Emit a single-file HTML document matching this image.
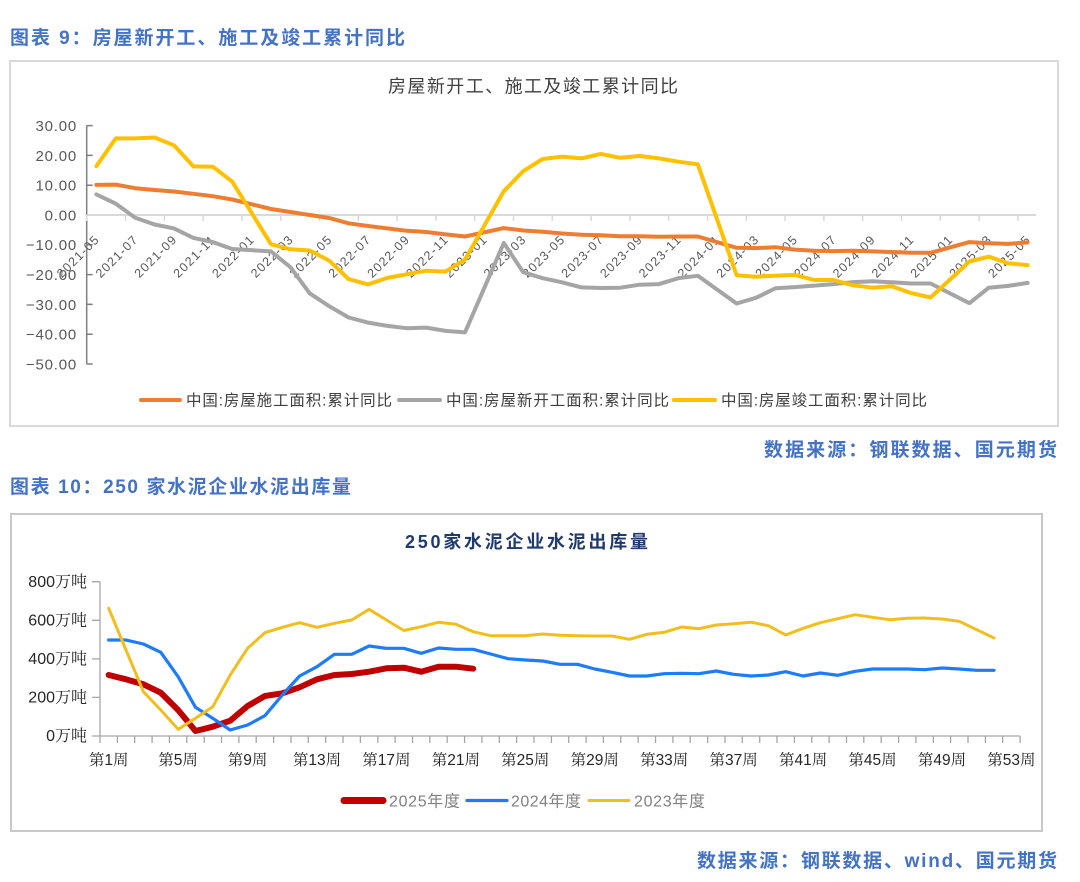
<!DOCTYPE html>
<html>
<head>
<meta charset="utf-8">
<style>
html,body{margin:0;padding:0;background:#fff;}
body{width:1080px;height:882px;overflow:hidden;}
svg{display:block;}
.sans{font-family:"Liberation Sans","Noto Sans CJK SC",sans-serif;}
.ser{font-family:"Liberation Sans","Noto Serif CJK SC",serif;}
</style>
</head>
<body>
<svg width="1080" height="882" viewBox="0 0 1080 882" xmlns="http://www.w3.org/2000/svg">
<rect x="0" y="0" width="1080" height="882" fill="#fff"/>

<!-- headers -->
<text class="sans" x="10" y="44" font-size="19" font-weight="bold" fill="#4472c4" textLength="395">图表 9：房屋新开工、施工及竣工累计同比</text>
<text class="sans" x="764" y="456" font-size="19" font-weight="bold" fill="#4472c4" textLength="293">数据来源：钢联数据、国元期货</text>
<text class="sans" x="10" y="493" font-size="19" font-weight="bold" fill="#4472c4" textLength="341">图表 10：250 家水泥企业水泥出库量</text>
<text class="sans" x="697" y="867" font-size="19" font-weight="bold" fill="#4472c4" textLength="360">数据来源：钢联数据、wind、国元期货</text>

<!-- ============ TOP CHART ============ -->
<rect x="10" y="61" width="1048" height="365" fill="#fff" stroke="#d9d9d9" stroke-width="2"/>
<text class="sans" x="388" y="92.5" font-size="18" fill="#404040" textLength="290">房屋新开工、施工及竣工累计同比</text>

<!-- y labels -->
<g class="sans" font-size="15" fill="#595959" text-anchor="end" letter-spacing="0.8">
<text x="77" y="131">30.00</text>
<text x="77" y="160.8">20.00</text>
<text x="77" y="190.6">10.00</text>
<text x="77" y="220.4">0.00</text>
<text x="77" y="250.2">−10.00</text>
<text x="77" y="280">−20.00</text>
<text x="77" y="309.8">−30.00</text>
<text x="77" y="339.6">−40.00</text>
<text x="77" y="369.4">−50.00</text>
</g>

<!-- y axis -->
<line x1="86.7" y1="125.6" x2="86.7" y2="364" stroke="#7f7f7f" stroke-width="1.5"/>
<path d="M86.7 125.6h6M86.7 155.4h6M86.7 185.2h6M86.7 244.8h6M86.7 274.6h6M86.7 304.4h6M86.7 334.2h6M86.7 364h6" stroke="#7f7f7f" stroke-width="1.5"/>

<!-- zero axis -->
<line x1="86.7" y1="215" x2="1036" y2="215" stroke="#d9d9d9" stroke-width="2"/>
<path d="M86.7 215v6M125.5 215v6M164.3 215v6M203.1 215v6M241.9 215v6M280.7 215v6M319.5 215v6M358.3 215v6M397.1 215v6M435.9 215v6M474.7 215v6M513.5 215v6M552.3 215v6M591.1 215v6M629.9 215v6M668.7 215v6M707.5 215v6M746.3 215v6M785.1 215v6M823.9 215v6M862.7 215v6M901.5 215v6M940.3 215v6M979.1 215v6M1017.9 215v6" stroke="#d9d9d9" stroke-width="1.5"/>

<!-- x labels -->
<g class="sans" font-size="12.5" fill="#595959" text-anchor="end">
<text transform="translate(99.4,241) rotate(-45)" textLength="53">2021-05</text>
<text transform="translate(138.2,241) rotate(-45)" textLength="53">2021-07</text>
<text transform="translate(177,241) rotate(-45)" textLength="53">2021-09</text>
<text transform="translate(215.8,241) rotate(-45)" textLength="53">2021-11</text>
<text transform="translate(254.6,241) rotate(-45)" textLength="53">2022-01</text>
<text transform="translate(293.4,241) rotate(-45)" textLength="53">2022-03</text>
<text transform="translate(332.2,241) rotate(-45)" textLength="53">2022-05</text>
<text transform="translate(371,241) rotate(-45)" textLength="53">2022-07</text>
<text transform="translate(409.8,241) rotate(-45)" textLength="53">2022-09</text>
<text transform="translate(448.6,241) rotate(-45)" textLength="53">2022-11</text>
<text transform="translate(487.4,241) rotate(-45)" textLength="53">2023-01</text>
<text transform="translate(526.2,241) rotate(-45)" textLength="53">2023-03</text>
<text transform="translate(565,241) rotate(-45)" textLength="53">2023-05</text>
<text transform="translate(603.8,241) rotate(-45)" textLength="53">2023-07</text>
<text transform="translate(642.6,241) rotate(-45)" textLength="53">2023-09</text>
<text transform="translate(681.4,241) rotate(-45)" textLength="53">2023-11</text>
<text transform="translate(720.2,241) rotate(-45)" textLength="53">2024-01</text>
<text transform="translate(759,241) rotate(-45)" textLength="53">2024-03</text>
<text transform="translate(797.8,241) rotate(-45)" textLength="53">2024-05</text>
<text transform="translate(836.6,241) rotate(-45)" textLength="53">2024-07</text>
<text transform="translate(875.4,241) rotate(-45)" textLength="53">2024-09</text>
<text transform="translate(914.2,241) rotate(-45)" textLength="53">2024-11</text>
<text transform="translate(953,241) rotate(-45)" textLength="53">2025-01</text>
<text transform="translate(991.8,241) rotate(-45)" textLength="53">2025-03</text>
<text transform="translate(1030.6,241) rotate(-45)" textLength="53">2025-05</text>
</g>

<!-- series -->
<g fill="none" stroke-width="4" stroke-linejoin="round" stroke-linecap="round">
<polyline stroke="#ED7D31" points="96.4,184.9 115.8,184.6 135.2,188.2 154.6,190.0 174.0,191.5 193.4,193.8 212.8,196.2 232.2,199.5 271.0,209.0 290.4,212.0 309.8,215.0 329.2,218.0 348.6,223.3 368.0,226.0 387.4,228.4 406.8,230.8 426.2,232.0 445.6,234.4 465.0,236.5 503.8,228.1 523.2,230.5 542.6,231.7 562.0,233.5 581.4,234.7 600.8,235.3 620.2,236.2 639.6,236.2 659.0,236.8 678.4,236.5 697.8,236.5 736.6,247.8 756.0,248.1 775.4,247.2 794.8,249.6 814.2,250.8 833.6,251.1 853.0,250.8 872.4,251.4 891.8,252.0 911.2,252.8 930.6,252.8 969.4,242.1 988.8,243.3 1008.2,243.9 1027.6,242.4"/>
<polyline stroke="#A5A5A5" points="96.4,194.4 115.8,203.7 135.2,217.7 154.6,224.5 174.0,228.4 193.4,237.9 212.8,242.1 232.2,249.0 271.0,251.4 290.4,267.2 309.8,293.4 329.2,306.2 348.6,317.5 368.0,322.6 387.4,325.9 406.8,328.2 426.2,327.6 445.6,330.9 465.0,332.4 503.8,243.0 523.2,272.2 542.6,278.2 562.0,282.3 581.4,287.4 600.8,288.0 620.2,287.7 639.6,284.7 659.0,284.1 678.4,278.2 697.8,275.8 736.6,303.5 756.0,297.8 775.4,288.3 794.8,287.1 814.2,285.6 833.6,284.1 853.0,282.1 872.4,281.2 891.8,282.3 911.2,283.5 930.6,283.5 969.4,303.2 988.8,287.7 1008.2,285.9 1027.6,282.9"/>
<polyline stroke="#FFC000" points="96.4,166.1 115.8,138.4 135.2,138.4 154.6,137.5 174.0,145.3 193.4,166.4 212.8,166.7 232.2,181.6 271.0,244.2 290.4,249.3 309.8,250.5 329.2,260.6 348.6,279.1 368.0,284.4 387.4,277.9 406.8,274.3 426.2,270.7 445.6,271.6 465.0,259.7 503.8,191.2 523.2,171.2 542.6,159.0 562.0,156.6 581.4,158.4 600.8,153.9 620.2,157.8 639.6,156.0 659.0,158.4 678.4,161.7 697.8,164.3 736.6,275.2 756.0,276.7 775.4,275.8 794.8,274.9 814.2,280.0 833.6,280.0 853.0,285.3 872.4,287.7 891.8,286.2 911.2,293.1 930.6,297.5 969.4,261.5 988.8,256.7 1008.2,263.3 1027.6,265.1"/>
</g>

<!-- legend -->
<g stroke-width="4" stroke-linecap="round">
<line x1="141" y1="400" x2="180" y2="400" stroke="#ED7D31"/>
<line x1="399" y1="400" x2="440" y2="400" stroke="#A5A5A5"/>
<line x1="674" y1="400" x2="715" y2="400" stroke="#FFC000"/>
</g>
<g class="sans" font-size="15.5" fill="#404040">
<text x="186" y="405.5" textLength="206">中国:房屋施工面积:累计同比</text>
<text x="446" y="405.5" textLength="223">中国:房屋新开工面积:累计同比</text>
<text x="721" y="405.5" textLength="206">中国:房屋竣工面积:累计同比</text>
</g>

<!-- ============ BOTTOM CHART ============ -->
<rect x="11" y="514" width="1031" height="317" fill="#fff" stroke="#c8c8c8" stroke-width="2"/>
<text class="sans" x="405" y="548" font-size="18" font-weight="bold" fill="#1f3a6e" textLength="243">250家水泥企业水泥出库量</text>

<!-- y labels -->
<g class="ser" font-size="16" fill="#262626" text-anchor="end">
<text x="87" y="587">800万吨</text>
<text x="87" y="625.5">600万吨</text>
<text x="87" y="664">400万吨</text>
<text x="87" y="702.5">200万吨</text>
<text x="87" y="741">0万吨</text>
</g>

<!-- axes -->
<line x1="100" y1="581.7" x2="100" y2="736" stroke="#a6a6a6" stroke-width="1.3"/>
<path d="M92 581.7h8M92 620.3h8M92 658.9h8M92 697.4h8M92 736h8" stroke="#a6a6a6" stroke-width="1.3"/>
<line x1="100" y1="736" x2="1020" y2="736" stroke="#a6a6a6" stroke-width="1.3"/>
<path d="M100 736v7M117.4 736v7M134.7 736v7M152.1 736v7M169.4 736v7M186.8 736v7M204.2 736v7M221.5 736v7M238.9 736v7M256.2 736v7M273.6 736v7M291 736v7M308.3 736v7M325.7 736v7M343 736v7M360.4 736v7M377.8 736v7M395.1 736v7M412.5 736v7M429.8 736v7M447.2 736v7M464.6 736v7M481.9 736v7M499.3 736v7M516.6 736v7M534 736v7M551.4 736v7M568.7 736v7M586.1 736v7M603.4 736v7M620.8 736v7M638.2 736v7M655.5 736v7M672.9 736v7M690.2 736v7M707.6 736v7M725 736v7M742.3 736v7M759.7 736v7M777 736v7M794.4 736v7M811.8 736v7M829.1 736v7M846.5 736v7M863.8 736v7M881.2 736v7M898.6 736v7M915.9 736v7M933.3 736v7M950.6 736v7M968 736v7M985.4 736v7M1002.7 736v7M1020.1 736v7" stroke="#a6a6a6" stroke-width="1.3"/>

<!-- x labels -->
<g class="ser" font-size="15.5" fill="#262626" text-anchor="middle">
<text x="108.7" y="765">第1周</text>
<text x="178.1" y="765">第5周</text>
<text x="247.6" y="765">第9周</text>
<text x="317" y="765">第13周</text>
<text x="386.4" y="765">第17周</text>
<text x="455.9" y="765">第21周</text>
<text x="525.3" y="765">第25周</text>
<text x="594.8" y="765">第29周</text>
<text x="664.2" y="765">第33周</text>
<text x="733.6" y="765">第37周</text>
<text x="803.1" y="765">第41周</text>
<text x="872.5" y="765">第45周</text>
<text x="942" y="765">第49周</text>
<text x="1011.4" y="765">第53周</text>
</g>

<!-- series -->
<g fill="none" stroke-linejoin="round" stroke-linecap="round">
<polyline stroke="#C00000" stroke-width="6" points="108.7,675 126.0,679.3 143.4,684.3 160.8,692.7 178.1,710 195.5,731 212.8,726.7 230.2,720.7 247.6,706 264.9,696 282.3,693.3 299.6,687.3 317.0,679.3 334.4,675 351.7,674 369.1,671.7 386.4,668.3 403.8,667.7 421.2,671.7 438.5,666.7 455.9,666.7 473.2,668.7"/>
<polyline stroke="#1E7BFA" stroke-width="3.2" points="108.7,640 126.0,640 143.4,644 160.8,652.3 178.1,676.7 195.5,707.3 212.8,718.3 230.2,730 247.6,725 264.9,715.7 282.3,695 299.6,676 317.0,666.7 334.4,654.3 351.7,654.3 369.1,646 386.4,648.3 403.8,648.3 421.2,653.3 438.5,648 455.9,649.3 473.2,649.3 490.6,654 508.0,658.7 525.3,660 542.7,661 560.0,664.3 577.4,664.3 594.8,669 612.1,672.3 629.5,676 646.8,676 664.2,673.7 681.6,673.3 698.9,673.7 716.3,671 733.6,674.3 751.0,676 768.4,675 785.7,671.7 803.1,676 820.4,673 837.8,675.3 855.2,671.3 872.5,669 889.9,669 907.2,669 924.6,669.7 942.0,668 959.3,669 976.7,670.3 994.0,670.3"/>
<polyline stroke="#F2BE1E" stroke-width="3" points="108.7,608.3 126.0,650 143.4,691.7 160.8,710 178.1,729.3 195.5,718.3 212.8,706.7 230.2,675 247.6,648.3 264.9,632.7 282.3,627.3 299.6,622.7 317.0,627.3 334.4,623.3 351.7,620 369.1,609.3 386.4,620 403.8,630.5 421.2,626.7 438.5,622.3 455.9,624.3 473.2,631.7 490.6,635.7 508.0,635.7 525.3,635.7 542.7,634 560.0,635.3 577.4,635.7 594.8,636 612.1,636 629.5,639.3 646.8,634.3 664.2,632.3 681.6,627 698.9,628.7 716.3,625 733.6,623.8 751.0,622.2 768.4,625.7 785.7,635 803.1,628.3 820.4,622.7 837.8,618.7 855.2,614.7 872.5,617.3 889.9,619.7 907.2,618.3 924.6,618 942.0,619 959.3,621.3 976.7,629.7 994.0,638"/>
</g>

<!-- legend -->
<g stroke-linecap="round">
<line x1="344" y1="800.5" x2="383" y2="800.5" stroke="#C00000" stroke-width="7"/>
<line x1="467" y1="800.5" x2="507" y2="800.5" stroke="#1E7BFA" stroke-width="3.2"/>
<line x1="589" y1="800.5" x2="629" y2="800.5" stroke="#F2BE1E" stroke-width="3"/>
</g>
<g class="sans" font-size="16" fill="#808080">
<text x="389" y="806.5" textLength="71">2025年度</text>
<text x="511" y="806.5" textLength="70">2024年度</text>
<text x="634" y="806.5" textLength="71">2023年度</text>
</g>
</svg>
</body>
</html>
